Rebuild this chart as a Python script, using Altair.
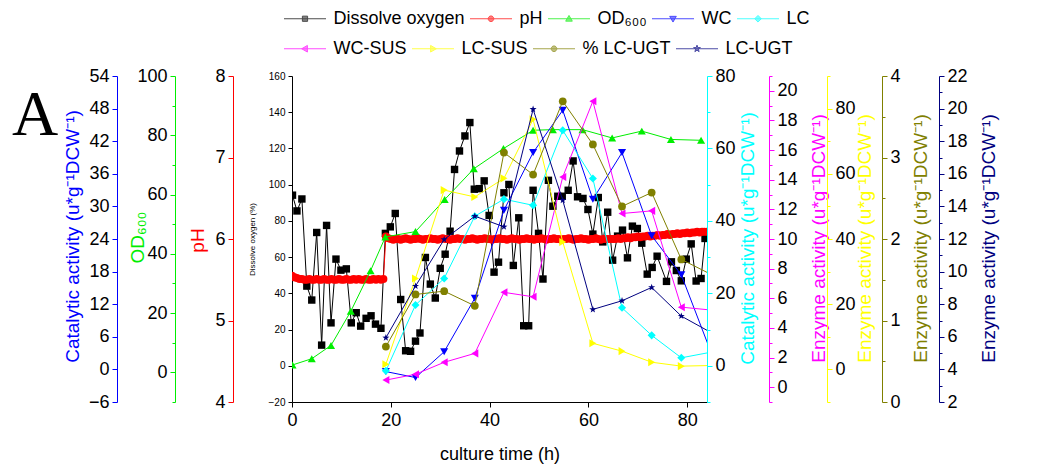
import altair as alt
import pandas as pd

# ---------------- data ----------------
do_time = [0.1, 1.0, 2.0, 3.0, 4.0, 5.0, 6.0, 7.0, 7.9, 8.9,
           9.9, 11.0, 12.0, 13.0, 13.9, 15.0, 16.0, 16.9, 18.0, 18.9,
           19.9, 20.9, 22.0, 23.0, 24.0, 25.0, 25.9, 27.0, 28.0, 29.0,
           30.0, 31.0, 32.0, 32.9, 33.9, 35.0, 36.0, 36.9, 37.9, 38.9,
           39.9, 40.9, 41.8, 42.9, 43.9, 44.8, 45.9, 46.9, 47.9, 48.8,
           49.9, 50.8, 51.9, 52.8, 53.8, 54.7, 55.9, 56.9, 57.8, 58.9,
           59.9, 60.9, 62.0, 62.9, 63.9, 64.9, 65.9, 66.9, 67.9, 68.9,
           69.9, 70.8, 71.9, 72.9, 73.9, 75.8, 76.8, 77.8, 78.8, 79.8,
           80.8, 81.8, 82.8, 83.6]
do_value = [94.2, 85.5, 92.1, 44.0, 36.3, 73.6, 11.4, 77.5, 23.7, 58.9,
            52.8, 53.5, 23.7, 29.3, 21.9, 26.2, 27.6, 23.0, 20.7, 73.1,
            76.7, 84.1, 36.6, 8.3, 8.0, 13.6, 18.1, 59.8, 45.1, 37.4,
            53.8, 61.6, 74.3, 108.4, 118.6, 126.9, 134.3, 97.5, 97.8, 102.1,
            83.0, 51.7, 57.2, 95.5, 100.1, 55.4, 81.7, 22.1, 22.1, 96.9,
            73.1, 47.9, 102.4, 88.1, 93.6, 93.6, 96.9, 113.1, 93.3, 92.4,
            86.3, 72.7, 92.9, 68.4, 84.8, 58.3, 71.6, 74.9, 59.6, 77.1,
            75.8, 67.7, 50.6, 54.3, 60.5, 46.6, 57.4, 52.6, 46.9, 58.9,
            67.3, 46.8, 48.2, 70.3]

ph_time = [0.0, 0.5, 1.0, 1.5, 2.0, 2.5, 3.0, 3.5, 4.0, 4.5,
           5.0, 5.5, 6.0, 6.5, 7.0, 7.5, 8.0, 8.5, 9.0, 9.5,
           10.0, 10.5, 11.0, 11.5, 12.0, 12.5, 13.0, 13.5, 14.0, 14.5,
           15.0, 15.5, 16.0, 16.5, 17.0, 17.5, 18.0, 18.5,
           19.0, 19.5, 20.0, 20.5, 21.0, 21.5, 22.0, 22.5, 23.0, 23.5,
           24.0, 24.5, 25.0, 25.5, 26.0, 26.5, 27.0, 27.5, 28.0, 28.5,
           29.0, 29.5, 30.0, 30.5, 31.0, 31.5, 32.0, 32.5, 33.0, 33.5,
           34.0, 34.5, 35.0, 35.5, 36.0, 36.5, 37.0, 37.5, 38.0, 38.5,
           39.0, 39.5, 40.0, 40.5, 41.0, 41.5, 42.0, 42.5, 43.0, 43.5,
           44.0, 44.5, 45.0, 45.5, 46.0, 46.5, 47.0, 47.5, 48.0, 48.5,
           49.0, 49.5, 50.0, 50.5, 51.0, 51.5, 52.0, 52.5, 53.0, 53.5,
           54.0, 54.5, 55.0, 55.5, 56.0, 56.5, 57.0, 57.5, 58.0, 58.5,
           59.0, 59.5, 60.0, 60.5, 61.0, 61.5, 62.0, 62.5, 63.0, 63.5,
           64.0, 64.5, 65.0, 65.5, 66.0, 66.5, 67.0, 67.5, 68.0, 68.5,
           69.0, 69.5, 70.0, 70.5, 71.0, 71.5, 72.0, 72.5, 73.0, 73.5,
           74.0, 74.5, 75.0, 75.5, 76.0, 76.5, 77.0, 77.5, 78.0, 78.5,
           79.0, 79.5, 80.0, 80.5, 81.0, 81.5, 82.0, 82.5, 83.0, 83.5,
           84.0]
ph_value = [5.55, 5.53, 5.52, 5.51, 5.51, 5.50, 5.50, 5.51, 5.50, 5.50,
            5.51, 5.50, 5.50, 5.51, 5.50, 5.50, 5.51, 5.50, 5.50, 5.51,
            5.50, 5.50, 5.51, 5.50, 5.50, 5.51, 5.50, 5.51, 5.50, 5.50,
            5.51, 5.50, 5.50, 5.51, 5.50, 5.51, 5.50, 5.51,
            6.03, 6.01, 6.00, 5.99, 6.00, 6.00, 5.99, 6.00, 6.01, 6.00,
            5.99, 6.00, 6.00, 6.01, 6.00, 5.99, 6.00, 6.00, 6.01, 6.00,
            6.00, 5.99, 6.00, 6.01, 6.00, 6.00, 5.99, 6.00, 6.00, 6.01,
            6.00, 6.00, 5.99, 6.00, 6.00, 6.01, 6.00, 5.99, 6.00, 6.00,
            6.01, 6.00, 6.00, 5.99, 6.00, 6.00, 6.01, 6.00, 6.00, 5.99,
            6.00, 6.01, 6.00, 6.00, 5.99, 6.00, 6.00, 6.01, 6.00, 6.00,
            5.99, 6.00, 6.00, 6.01, 6.00, 5.99, 6.00, 6.00, 6.01, 6.00,
            6.00, 5.99, 6.00, 6.00, 6.01, 6.00, 5.99, 6.00, 6.00, 6.01,
            6.00, 6.00, 5.99, 6.00, 6.00, 6.01, 6.00, 5.99, 6.00, 6.00,
            6.00, 6.00,
            6.00, 6.00, 6.01, 6.00, 6.01, 6.01, 6.02, 6.01, 6.02, 6.02,
            6.03, 6.02, 6.03, 6.03, 6.04, 6.03, 6.04, 6.04, 6.05, 6.04,
            6.05, 6.05, 6.06, 6.05, 6.06, 6.06, 6.07, 6.06, 6.07, 6.07,
            6.08, 6.07, 6.08, 6.08, 6.09, 6.08, 6.09, 6.09, 6.09]

od_time = [0.1, 4.0, 7.9, 11.9, 15.9, 18.9, 25.0, 30.9, 36.8, 42.8,
           48.8, 52.8, 58.8, 64.8, 70.8, 76.7, 82.8]
od_value = [2.5, 4.6, 9.1, 20.6, 34.3, 45.7, 47.5, 58.3, 68.7, 75.5,
            81.7, 81.9, 81.9, 79.1, 81.4, 78.6, 78.3]

enz_time = [19.0, 25.0, 30.8, 37.0, 42.9, 48.8, 54.8, 60.9, 66.8, 72.8, 78.8, 85.0]
wc_value = [-0.4, -1.5, 3.25, 13.1, 29.3, 39.9, 47.7, 31.3, 39.9, 24.6, 17.4, 2.7]
lc_value = [-1.4, 16.8, 24.1, 41.3, 46.0, 44.3, 65.0, 51.7, 16.0, 8.4, 2.2, 3.8]
wc_sus_value = [0.48, 0.87, 1.68, 2.28, 6.40, 6.10, 14.19, 19.3, 11.72, 11.9, 5.40, 5.2]
lc_sus_value = [1.6, 27.9, 55.0, 52.9, 58.6, 76.7, 39.1, 8.0, 5.6, 2.2, 1.0, 1.2]
pct_lc_ugt_value = [0.68, 1.32, 1.36, 1.18, 3.06, 2.79, 3.69, 3.16, 2.40, 2.57, 1.75, 1.56]
lc_ugt_value = [5.94, 9.11, 11.97, 13.4, 12.75, 19.96, 14.38, 7.68, 8.21, 9.03, 7.27, 6.23]

series_names = ["Dissolve oxygen", "pH", "OD₆₀₀", "WC", "LC",
                "WC-SUS", "LC-SUS", "% LC-UGT", "LC-UGT"]
series_colors = ["#000000", "#ff0000", "#00ee00", "#0000ff", "#00ffff",
                 "#ff00ff", "#ffff00", "#808000", "#000080"]

x_ticks = [0, 20, 40, 60, 80]
activity_title = "Catalytic activity (u*g⁻¹DCW⁻¹)"
enzyme_title = "Enzyme activity (u*g⁻¹DCW⁻¹)"

# ---------------- styling helpers ----------------
FONT = "Liberation Sans"
STAR = ("M0,-1L0.235,-0.324L0.951,-0.309L0.38,0.124L0.588,0.809L0,0.4"
        "L-0.588,0.809L-0.38,0.124L-0.951,-0.309L-0.235,-0.324Z")

# legend glyphs: a line with the series marker in its middle
legend_paths = [
    "M-2.1,0H2.1M-0.26,-0.26H0.26V0.26H-0.26Z",
    "M-2.1,0H2.1M0.28,0A0.28,0.28 0 1,1 -0.28,0A0.28,0.28 0 1,1 0.28,0Z",
    "M-2.1,0H2.1M0,-0.33L0.33,0.24L-0.33,0.24Z",
    "M-2.1,0H2.1M0,0.33L0.33,-0.24L-0.33,-0.24Z",
    "M-2.1,0H2.1M0,-0.33L0.33,0L0,0.33L-0.33,0Z",
    "M-2.1,0H2.1M-0.33,0L0.24,-0.33L0.24,0.33Z",
    "M-2.1,0H2.1M0.33,0L-0.24,-0.33L-0.24,0.33Z",
    "M-2.1,0H2.1M0.28,0A0.28,0.28 0 1,1 -0.28,0A0.28,0.28 0 1,1 0.28,0Z",
    ("M-2.1,0H2.1M0,-0.36L0.085,-0.117L0.342,-0.111L0.137,0.045L0.212,0.291L0,0.144"
     "L-0.212,0.291L-0.137,0.045L-0.342,-0.111L-0.085,-0.117Z"),
]

X = alt.X("t:Q", scale=alt.Scale(domain=[0, 84], nice=False, zero=False),
          axis=alt.Axis(values=x_ticks, title="culture time (h)", grid=False,
                        labelFontSize=18, titleFontSize=18, labelFont=FONT, titleFont=FONT,
                        titleFontWeight="normal", labelColor="black", titleColor="black",
                        domainColor="black", tickColor="black", tickSize=5,
                        labelPadding=4, titlePadding=16, labelFlush=False))


def yaxis(orient, offset, values, color, title, title_x, title_y, major=None,
          label_size=18, title_size=19, tick=5, domain_color=None, fmt=None):
    kw = dict(orient=orient, offset=offset, values=values, grid=False, title=title,
              labelFont=FONT, titleFont=FONT, labelFontSize=label_size,
              titleFontSize=title_size, titleFontWeight="normal",
              labelColor="black", titleColor=color,
              domainColor=domain_color or color, tickColor=domain_color or color,
              titleAngle=270, titleX=title_x, titleY=title_y,
              titleBaseline="middle", titleAlign="center",
              labelPadding=3, labelOverlap=False, labelFlush=False)
    if fmt:
        kw["format"] = fmt
    if major is None:
        kw["tickSize"] = tick
    else:
        kw["tickSize"] = {"condition": {"test": major, "value": tick}, "value": 3}
        kw["labelExpr"] = f"({major}) ? datum.label : ''"
    return alt.Axis(**kw)


def series_layer(times, vals, color, domain, axis, shape, size, stroke_w=1):
    df = pd.DataFrame({"t": times, "v": vals})
    return alt.Chart(df).mark_line(
        color=color, strokeWidth=stroke_w, clip=True,
        point=alt.OverlayMarkDef(filled=True, shape=shape, size=size, color=color, clip=True),
    ).encode(
        x=X,
        y=alt.Y("v:Q", scale=alt.Scale(domain=domain, nice=False, zero=False), axis=axis),
    )


do_layer = series_layer(
    do_time, do_value, "#000000", [-20, 160],
    yaxis("left", 0, [-20, 0, 20, 40, 60, 80, 100, 120, 140, 160], "black",
          "Dissolve oxygen (%)", -40, 163, label_size=10, title_size=8, tick=4),
    "square", 55)

ph_layer = series_layer(
    ph_time, ph_value, "#ff0000", [4, 8],
    yaxis("left", 59, [4, 5, 6, 7, 8], "#ff0000", "pH", -36, 164),
    "circle", 64)

od_layer = series_layer(
    od_time, od_value, "#00ee00", [-10, 100],
    yaxis("left", 117, [-10, 0, 10, 20, 30, 40, 50, 60, 70, 80, 90, 100], "#00ee00",
          "OD₆₀₀", -38, 161, major="datum.value % 20 == 0"),
    "triangle-up", 65)

wc_layer = series_layer(
    enz_time, wc_value, "#0000ff", [-6, 54],
    yaxis("left", 175, [-6, 0, 6, 12, 18, 24, 30, 36, 42, 48, 54], "#0000ff",
          activity_title, -45, 160),
    "triangle-down", 65)

lc_layer = series_layer(
    enz_time, lc_value, "#00ffff", [-10, 80],
    yaxis("right", 0, [-10, 0, 10, 20, 30, 40, 50, 60, 70, 80], "#00ffff",
          activity_title, 40, 162, major="datum.value % 20 == 0"),
    "diamond", 65)

wc_sus_layer = series_layer(
    enz_time, wc_sus_value, "#ff00ff", [-1, 21],
    yaxis("right", 62, list(range(-1, 22)), "#ff00ff",
          enzyme_title, 49, 162, major="datum.value % 2 == 0"),
    "triangle-left", 65)

lc_sus_layer = series_layer(
    enz_time, lc_sus_value, "#ffff00", [-10, 90],
    yaxis("right", 120, [-10, 0, 10, 20, 30, 40, 50, 60, 70, 80, 90], "#ffff00",
          enzyme_title, 37, 162, major="datum.value % 20 == 0"),
    "triangle-right", 65)

pct_layer = series_layer(
    enz_time, pct_lc_ugt_value, "#808000", [0, 4],
    yaxis("right", 175, [0, 0.5, 1, 1.5, 2, 2.5, 3, 3.5, 4], "#808000",
          enzyme_title, 38, 162, major="datum.value % 1 == 0", fmt=".0f"),
    "circle", 60)

lc_ugt_layer = series_layer(
    enz_time, lc_ugt_value, "#000080", [2, 22],
    yaxis("right", 232, list(range(2, 23)), "#000080",
          enzyme_title, 49, 162, major="datum.value % 2 == 0"),
    STAR, 55)


def legend_layer(field, names, colors, paths, legend_y):
    leg = alt.Legend(orient="none", legendX=-8, legendY=legend_y, direction="horizontal",
                     title=None, symbolSize=400, symbolStrokeWidth=1,
                     symbolOffset=10.5, labelOffset=18, labelFontSize=18,
                     labelFont=FONT, labelColor="black", columnPadding=3,
                     labelLimit=0)
    return alt.Chart(pd.DataFrame({field: names})).transform_filter("false").mark_point(
        filled=True, strokeWidth=1).encode(
        fill=alt.Fill(f"{field}:N", scale=alt.Scale(domain=names, range=colors), legend=leg),
        stroke=alt.Stroke(f"{field}:N", scale=alt.Scale(domain=names, range=colors), legend=leg),
        shape=alt.Shape(f"{field}:N", scale=alt.Scale(domain=names, range=paths), legend=leg),
    )


legend_row1 = legend_layer("row1", series_names[:5], series_colors[:5], legend_paths[:5], -68)
legend_row2 = legend_layer("row2", series_names[5:], series_colors[5:], legend_paths[5:], -38)

panel_label = alt.Chart(pd.DataFrame({"label": ["A"]})).mark_text(
    font="Liberation Serif", fontSize=64, align="left", baseline="alphabetic", color="black"
).encode(x=alt.value(-280), y=alt.value(59), text="label:N")

chart = alt.layer(
    do_layer, ph_layer, od_layer, wc_layer, lc_layer, wc_sus_layer,
    lc_sus_layer, pct_layer, lc_ugt_layer, legend_row1, legend_row2, panel_label,
).resolve_scale(
    y="independent", fill="independent", stroke="independent", shape="independent"
).resolve_axis(y="independent").properties(
    width=415, height=326,
    padding={"left": 4, "top": 0, "right": 5, "bottom": 5},
).configure_view(stroke=None)

chart.save("out.html", embed_options={"renderer": "svg", "actions": False})
